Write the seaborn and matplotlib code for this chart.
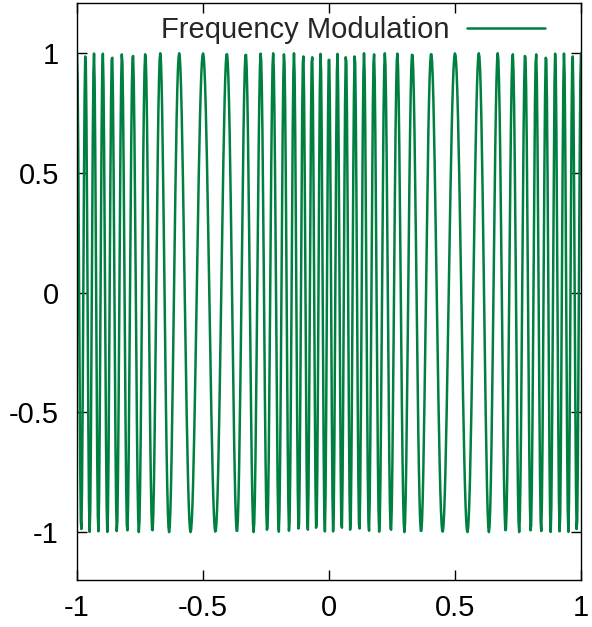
import numpy as np
import pandas as pd
import matplotlib
matplotlib.use("Agg")
import matplotlib.pyplot as plt
import seaborn as sns

# FM signal parameters:
# carrier ~20 cycles per unit, modulation 1 cycle per unit, index ~10
carrier_freq = 20.0
mod_freq = 1.0
mod_index = 10.0
x_range = [-1.0, 1.0]
n_samples = 800

x_ticks = [-1, -0.5, 0, 0.5, 1]
x_tick_labels = ["-1", "-0.5", "0", "0.5", "1"]
y_ticks = [-1, -0.5, 0, 0.5, 1]
y_tick_labels = ["-1", "-0.5", "0", "0.5", "1"]
series_label = "Frequency Modulation"

x = np.linspace(x_range[0], x_range[1], n_samples)
y = np.cos(2 * np.pi * carrier_freq * x + mod_index * np.sin(2 * np.pi * mod_freq * x))
df = pd.DataFrame({"x": x, "y": y})

sns.set_style("ticks")
plt.rcParams["font.family"] = ["Liberation Sans", "DejaVu Sans"]

fig = plt.figure(figsize=(5.92, 6.27), dpi=100)
ax = fig.add_axes([77 / 592, 1 - 580 / 627, (581 - 77) / 592, (580 - 3) / 627])

sns.lineplot(data=df, x="x", y="y", ax=ax, color="#008040", linewidth=1.8,
             label=series_label, estimator=None, sort=False)

ax.set_xlim(x_range)
ax.set_ylim(-1.2, 1.21)
ax.set_xticks(x_ticks)
ax.set_xticklabels(x_tick_labels)
ax.set_yticks(y_ticks)
ax.set_yticklabels(y_tick_labels)
ax.set_xlabel("")
ax.set_ylabel("")
ax.tick_params(direction="in", length=7, width=1, labelsize=21, pad=10,
               top=True, right=True, colors="black")
ax.tick_params(axis="y", pad=13)
for side in ax.spines.values():
    side.set_linewidth(1)
    side.set_color("black")

ax.legend(loc="upper right", frameon=False, markerfirst=False, fontsize=21,
          handlelength=2.67, handletextpad=0.6, borderaxespad=0.0,
          bbox_to_anchor=(0.952, 0.998))

fig.savefig("out.png", dpi=100)
